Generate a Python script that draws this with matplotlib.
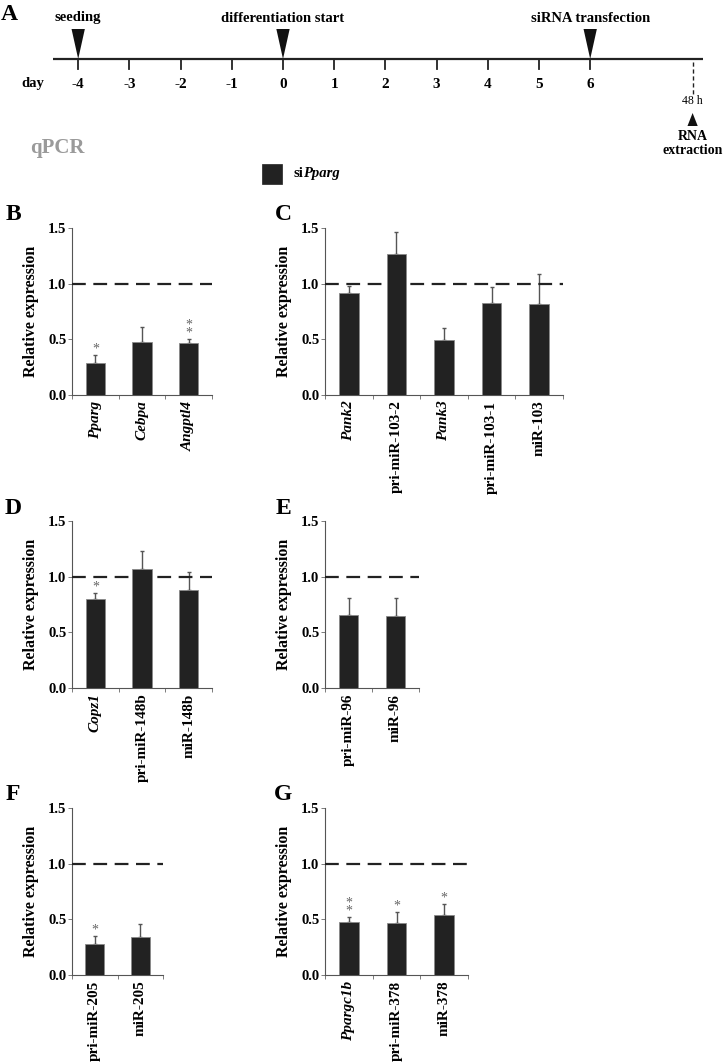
import matplotlib
matplotlib.use("Agg")
import matplotlib.pyplot as plt
from matplotlib.patches import Rectangle

plt.rcParams['font.family'] = ['Liberation Serif', 'DejaVu Serif']
plt.rcParams['font.weight'] = 'bold'
plt.rcParams['axes.labelweight'] = 'bold'

W, H = 724, 1062

# Timeline (panel A)
days = [-4, -3, -2, -1, 0, 1, 2, 3, 4, 5, 6]
event_days = [-4, 0, 6]
event_labels = ['seeding', 'differentiation start', 'siRNA transfection']
harvest_day = 8

# qPCR panels: categories, mean, upper error end, significance
b_cats = ['Pparg', 'Cebpa', 'Angptl4']
b_vals = [0.29, 0.48, 0.47]
b_errs = [0.36, 0.61, 0.50]
b_sig = ['*', '', '**']

c_cats = ['Pank2', 'pri-miR-103-2', 'Pank3', 'pri-miR-103-1', 'miR-103']
c_vals = [0.92, 1.27, 0.49, 0.83, 0.82]
c_errs = [0.98, 1.46, 0.60, 0.97, 1.09]
c_sig = ['', '', '', '', '']

d_cats = ['Copz1', 'pri-miR-148b', 'miR-148b']
d_vals = [0.80, 1.07, 0.88]
d_errs = [0.85, 1.23, 1.04]
d_sig = ['*', '', '']

e_cats = ['pri-miR-96', 'miR-96']
e_vals = [0.66, 0.65]
e_errs = [0.81, 0.81]
e_sig = ['', '']

f_cats = ['pri-miR-205', 'miR-205']
f_vals = [0.28, 0.34]
f_errs = [0.35, 0.46]
f_sig = ['*', '']

g_cats = ['Ppargc1b', 'pri-miR-378', 'miR-378']
g_vals = [0.48, 0.47, 0.54]
g_errs = [0.52, 0.57, 0.64]
g_sig = ['**', '*', '*']

italic_genes = {'Pparg', 'Cebpa', 'Angptl4', 'Pank2', 'Pank3', 'Copz1', 'Ppargc1b'}

fig = plt.figure(figsize=(W / 100, H / 100), dpi=100)


def fx(x):
    return x / W


def fy(y):
    return 1 - y / H


# ---- panel A: timeline ----
px0, pday = 283, 51.2  # pixel of day 0, pixels per day
ax_t = fig.add_axes([0, fy(160), 1, 160 / H])
ax_t.set_xlim(-px0 / pday, (W - px0) / pday)
ax_t.set_ylim(160, 0)
ax_t.axis('off')

d_left, d_right = (53 - px0) / pday, (703 - px0) / pday
ax_t.plot([d_left, d_right], [59, 59], color='#222222', lw=1.6, solid_capstyle='butt')
for d in days:
    ax_t.plot([d, d], [59, 69], color='#222222', lw=1.3)
    ax_t.text(d, 84, str(d), ha='center', va='center', fontsize=11)
ax_t.text((33 - px0) / pday, 83, 'day', ha='center', va='center', fontsize=10.5)

for d, lab in zip(event_days, event_labels):
    ax_t.fill([d - 0.13, d + 0.13, d], [29, 29, 59], color='#111111', lw=0)
    ax_t.text(d, 18, lab, ha='center', va='center', fontsize=10.5)

ax_t.plot([harvest_day, harvest_day], [62, 95], color='#222222', lw=1.0, ls=(0, (3, 2)))
ax_t.text(harvest_day, 101, '48 h', ha='center', va='center', fontsize=8.5,
          fontweight='normal')
ax_t.fill([harvest_day - 0.1, harvest_day + 0.1, harvest_day], [126, 126, 113],
          color='#111111', lw=0)
ax_t.text(harvest_day, 136, 'RNA', ha='center', va='center', fontsize=10)
ax_t.text(harvest_day, 150, 'extraction', ha='center', va='center', fontsize=10)

fig.text(fx(9), fy(15), 'A', ha='center', va='center', fontsize=17)
fig.text(fx(57), fy(148), 'qPCR', ha='center', va='center', fontsize=15,
         color='#9a9a9a')

# legend
fig.patches.append(Rectangle((fx(262), fy(184)), 20 / W, 20 / H,
                             transform=fig.transFigure, facecolor='#222222',
                             edgecolor='#222222', lw=0.5))
t_si = fig.text(fx(293), fy(174), 'si', ha='left', va='center', fontsize=10.5)
plt.annotate('Pparg', xy=(1, 0.5), xycoords=t_si, ha='left', va='center',
             fontsize=10.5, fontstyle='italic')


def bar_panel(letter, left, right, y0, ytop, cats, vals, errs, sig, lx):
    ax = fig.add_axes([fx(left), fy(y0), (right - left) / W, (y0 - ytop) / H])
    n = len(cats)
    x = list(range(n))
    up = [e - v for v, e in zip(vals, errs)]
    ax.bar(x, vals, width=0.41, color='#222222', edgecolor='#8a8a8a', lw=0.6,
           zorder=3)
    ax.errorbar(x, vals, yerr=[[0] * n, up], fmt='none', ecolor='#555555',
                elinewidth=1.0, capsize=1.6, capthick=1.0, zorder=2)
    ax.axhline(1.0, color='#222222', lw=1.6, dashes=(6.2, 3.4), zorder=4)
    for xi, e, s in zip(x, errs, sig):
        if s:
            ax.text(xi, e - 0.005, '\n'.join(s), ha='center', va='bottom',
                    fontsize=10, color='#666666', fontweight='normal',
                    linespacing=0.55, zorder=5)
    ax.set_xlim(-0.5, n - 0.5)
    ax.set_ylim(0, 1.5)
    ax.set_yticks([0, 0.5, 1.0, 1.5])
    ax.set_yticklabels(['0.0', '0.5', '1.0', '1.5'])
    ax.set_xticks(x)
    ax.set_xticks([i - 0.5 for i in range(n + 1)], minor=True)
    ax.set_xticklabels(cats, rotation=90, fontsize=11)
    for lab in ax.get_xticklabels():
        if lab.get_text() in italic_genes:
            lab.set_fontstyle('italic')
    ax.tick_params(axis='x', which='major', length=0, pad=4)
    ax.tick_params(axis='x', which='minor', length=3, width=0.6, color='#666666')
    ax.tick_params(axis='y', length=3, width=0.6, color='#666666', labelsize=10.5,
                   pad=1)
    for sp in ['top', 'right']:
        ax.spines[sp].set_visible(False)
    for sp in ['left', 'bottom']:
        ax.spines[sp].set_color('#555555')
        ax.spines[sp].set_linewidth(0.8)
    ax.set_ylabel('Relative expression', fontsize=11.5, fontweight='bold')
    ax.yaxis.set_label_coords(-33 / (right - left), 0.5)
    fig.text(fx(lx), fy(ytop - 13), letter, ha='center', va='center', fontsize=17)
    return ax


bar_panel('B', 72, 212, 395, 228, b_cats, b_vals, b_errs, b_sig, 13)
bar_panel('C', 325, 563, 395, 228, c_cats, c_vals, c_errs, c_sig, 283)
bar_panel('D', 72, 212, 688, 521, d_cats, d_vals, d_errs, d_sig, 13)
bar_panel('E', 325, 419, 688, 521, e_cats, e_vals, e_errs, e_sig, 283)
bar_panel('F', 72, 163, 975, 808, f_cats, f_vals, f_errs, f_sig, 13)
bar_panel('G', 325, 468, 975, 808, g_cats, g_vals, g_errs, g_sig, 283)

fig.savefig('out.png', dpi=100)
